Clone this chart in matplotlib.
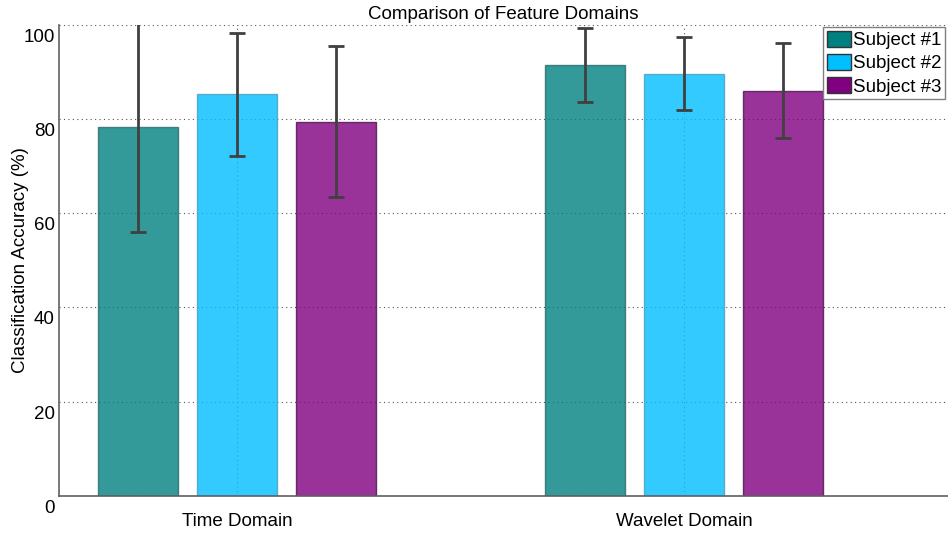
import numpy as np
import matplotlib.pyplot as plt
from matplotlib.patches import Patch
from matplotlib.transforms import ScaledTranslation

plt.rcParams['font.family'] = ['Liberation Sans', 'DejaVu Sans']

# data
domains = ['Time Domain', 'Wavelet Domain']
subjects = ['Subject #1', 'Subject #2', 'Subject #3']
acc_s1 = [78.3, 91.4]
acc_s2 = [85.2, 89.6]
acc_s3 = [79.4, 86.0]
err_s1 = [22.3, 7.9]
err_s2 = [13.0, 7.8]
err_s3 = [16.0, 10.0]

base_cols = ['#008080', '#00BFFF', '#800080']
edge_cols = ['#2a6a6a', '#4a9cc0', '#4a104a']

fig = plt.figure(figsize=(9.48, 5.33), dpi=100)
ax = fig.add_axes([59/948, 1-496/533, 1-59/948, (496-24.5)/533])

x = np.arange(1, len(domains)+1)
w = 0.178
step = 0.2215
series = [(acc_s1, err_s1), (acc_s2, err_s2), (acc_s3, err_s3)]
for i, (vals, errs) in enumerate(series):
    pos = x + (i-1)*step
    ax.bar(pos, vals, width=w, color=base_cols[i], alpha=0.8,
           edgecolor=edge_cols[i], linewidth=1, zorder=2)
    ax.errorbar(pos, vals, yerr=errs, fmt='none', ecolor='#404040',
                elinewidth=2, capsize=6, capthick=2, zorder=3)

ax.set_xlim(0.602, 2.59)
ax.set_ylim(0, 100)
ax.set_xticks(x)
ax.set_xticklabels(domains, fontsize=13.5)
ax.set_yticks([0, 20, 40, 60, 80, 100])
ax.tick_params(axis='both', length=0)
ax.tick_params(axis='y', pad=3, labelsize=13.5)
ax.tick_params(axis='x', pad=12)
off = ScaledTranslation(0, -10.5/100, fig.dpi_scale_trans)
for lab in ax.get_yticklabels():
    lab.set_transform(lab.get_transform() + off)

ax.grid(True, linestyle=(0, (1, 3)), color='#555555', linewidth=0.8, zorder=0)
ax.set_axisbelow(True)
for s in ['top', 'right']:
    ax.spines[s].set_visible(False)
for s in ['left', 'bottom']:
    ax.spines[s].set_color('#606060')
    ax.spines[s].set_linewidth(1.2)

ax.set_ylabel('Classification Accuracy (%)', fontsize=13.5)
ax.yaxis.set_label_coords(-30/889, 0.5)
ax.set_title('Comparison of Feature Domains', fontsize=13.5, pad=4)

handles = [Patch(facecolor=c, edgecolor='#333333') for c in base_cols]
leg = fig.legend(handles, subjects, loc='upper left',
                 bbox_to_anchor=(823/948, 1-27/533), fontsize=13.5,
                 fancybox=False, framealpha=1, edgecolor='#808080',
                 borderaxespad=0, borderpad=0.2, handlelength=1.3,
                 handleheight=0.95, labelspacing=0.25, handletextpad=0.1)

fig.savefig('out.png', dpi=100)
